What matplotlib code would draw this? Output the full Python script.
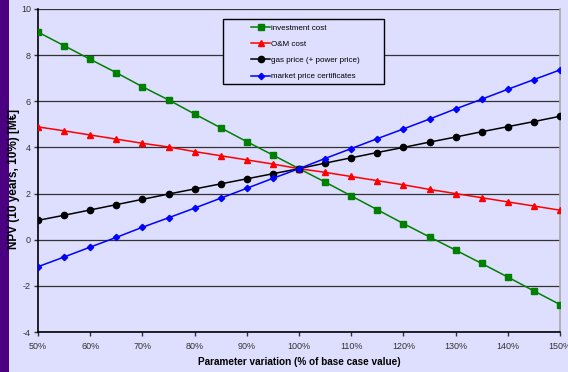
import matplotlib.pyplot as plt
from matplotlib.patches import Rectangle
from matplotlib.ticker import FuncFormatter

plt.rcParams['font.family'] = ['Liberation Sans', 'DejaVu Sans']
plt.rcParams['axes.unicode_minus'] = False

# parameter variation, % of base case
variation = [50, 55, 60, 65, 70, 75, 80, 85, 90, 95, 100,
             105, 110, 115, 120, 125, 130, 135, 140, 145, 150]

# NPV (10 years, 10%) in M€ for each sensitivity
investment_cost = [9.0, 8.41, 7.82, 7.24, 6.63, 6.06, 5.45, 4.85, 4.25, 3.67, 3.08,
                   2.5, 1.9, 1.3, 0.7, 0.12, -0.45, -1.03, -1.62, -2.22, -2.81]
om_cost = [4.89, 4.72, 4.54, 4.36, 4.18, 4.02, 3.82, 3.64, 3.46, 3.28, 3.08,
           2.92, 2.74, 2.56, 2.38, 2.18, 2.0, 1.82, 1.64, 1.46, 1.28]
gas_price = [0.84, 1.06, 1.29, 1.52, 1.75, 1.98, 2.2, 2.42, 2.64, 2.86, 3.08,
             3.32, 3.55, 3.78, 4.0, 4.23, 4.45, 4.68, 4.9, 5.12, 5.35]
market_price = [-1.17, -0.75, -0.32, 0.1, 0.54, 0.95, 1.37, 1.8, 2.23, 2.66, 3.08,
                3.52, 3.95, 4.38, 4.8, 5.23, 5.67, 6.09, 6.52, 6.94, 7.36]

labels = ['investment cost', 'O&M cost', 'gas price (+ power price)',
          'market price certificates']

BG = '#DEDEFF'
W, H = 568, 372
X0, X1, Y0, Y1 = 38, 560, 9, 332   # plot area in pixels

fig = plt.figure(figsize=(W / 100, H / 100), dpi=100, facecolor=BG)
# purple strip along the left edge
fig.patches.append(Rectangle((0, 0), 9 / W, 1, transform=fig.transFigure,
                             facecolor='#4B0082', edgecolor='none', zorder=-1))

ax = fig.add_axes([X0 / W, (H - Y1) / H, (X1 - X0) / W, (Y1 - Y0) / H])
ax.set_facecolor(BG)

ax.plot(variation, investment_cost, color='#008000', marker='s', markersize=4.5,
        linewidth=1.1, label=labels[0], zorder=3)
ax.plot(variation, om_cost, color='#FF0000', marker='^', markersize=5,
        linewidth=1.1, label=labels[1], zorder=3)
ax.plot(variation, gas_price, color='black', marker='o', markersize=4.5,
        linewidth=1.1, label=labels[2], zorder=3)
ax.plot(variation, market_price, color='#0000FF', marker='D', markersize=3.2,
        linewidth=1.1, label=labels[3], zorder=4)

ax.set_xlim(50, 150)
ax.set_ylim(-4, 10)
ax.set_xticks(range(50, 151, 10))
ax.set_yticks(range(-4, 11, 2))
ax.xaxis.set_major_formatter(FuncFormatter(lambda v, p: f'{v:.0f}%'))
ax.grid(axis='y', color='#333333', linewidth=0.9, zorder=1)
ax.set_axisbelow(True)

for s in ['left', 'bottom']:
    ax.spines[s].set_color('black')
    ax.spines[s].set_linewidth(1.2)
ax.spines['top'].set_visible(False)
ax.spines['right'].set_color('#A8A8A8')
ax.spines['right'].set_linewidth(1.2)

ax.tick_params(axis='both', labelsize=6.5, colors='#333333', length=3, width=1,
               direction='out', pad=2)
ax.tick_params(axis='x', pad=4)

ax.set_xlabel('Parameter variation (% of base case value)', fontsize=7.2,
              fontweight='bold', va='center')
ax.set_ylabel('NPV (10 years, 10%) [M€]', fontsize=8.5, fontweight='bold',
              va='center')
ax.xaxis.set_label_coords(0.5, (Y1 - 362) / (Y1 - Y0))
ax.yaxis.set_label_coords((14 - X0) / (X1 - X0), (Y1 - 179) / (Y1 - Y0))

# legend box with the entries inside
fig.patches.append(Rectangle((223 / W, (H - 84) / H), (384 - 223) / W, (84 - 19) / H,
                             transform=fig.transFigure, facecolor=BG,
                             edgecolor='black', linewidth=1, zorder=5))
leg = fig.legend(loc='upper left', bbox_to_anchor=(243 / W, (H - 16) / H),
                 frameon=False, fontsize=5.8, numpoints=1, handlelength=2.3,
                 handletextpad=0.1, labelspacing=1.05, borderpad=0.55)
leg.set_zorder(6)

fig.savefig('out.png', dpi=100, facecolor=BG)
